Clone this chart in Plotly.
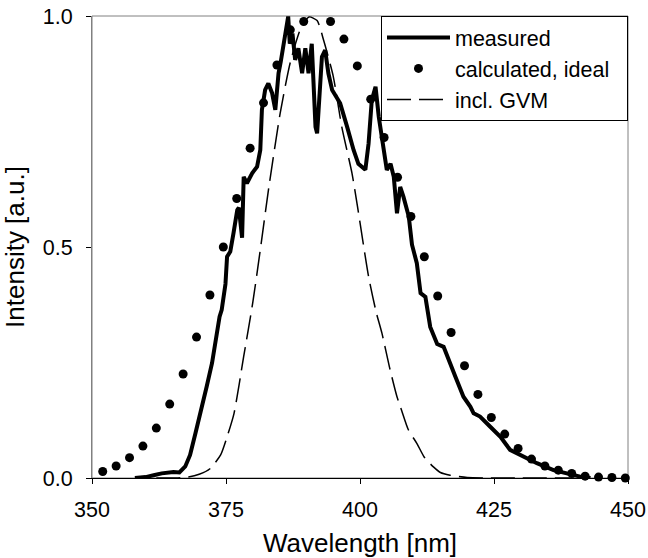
import plotly.graph_objects as go

# Measured spectrum (nm, normalised intensity)
measured_nm = [358.0, 360.0, 361.5, 363.0, 365.2, 366.3, 367.4, 368.3, 369.3, 370.5,
               371.4, 372.4, 372.9, 373.8, 374.2, 374.9, 375.2, 375.8, 376.4, 377.1,
               377.4, 378.0, 378.3, 378.9, 379.9, 380.8, 381.4, 381.7, 382.0, 382.3,
               382.9, 383.6, 384.2, 384.8, 385.2, 385.8, 386.6, 386.9, 387.4, 387.9,
               388.5, 389.2, 389.8, 390.4, 391.0, 391.7, 392.0, 392.9, 393.5, 394.1,
               394.8, 396.3, 396.9, 397.6, 398.8, 399.7, 401.0, 401.6, 402.2, 402.9,
               403.5, 404.4, 405.0, 405.7, 406.3, 406.9, 407.5, 408.1, 409.1, 409.7,
               410.3, 410.6, 411.3, 412.2, 413.1, 414.4, 415.6, 416.5, 417.8, 419.3,
               420.6, 421.2, 422.4, 424.3, 426.2, 428.0, 430.5, 433.0, 436.1, 438.6,
               441.1, 443.0]
measured_val = [0.0, 0.002, 0.006, 0.010, 0.013, 0.012, 0.025, 0.05, 0.097, 0.15,
                0.198, 0.249, 0.29, 0.349, 0.364, 0.42, 0.479, 0.49, 0.53, 0.58,
                0.585, 0.52, 0.652, 0.638, 0.66, 0.674, 0.71, 0.797, 0.818, 0.84,
                0.854, 0.833, 0.797, 0.876, 0.90, 0.94, 0.999, 0.94, 0.962, 0.905,
                0.93, 0.876, 0.93, 0.876, 0.94, 0.76, 0.746, 0.912, 0.926, 0.876,
                0.84, 0.811, 0.789, 0.76, 0.71, 0.68, 0.667, 0.724, 0.818, 0.847,
                0.782, 0.72, 0.667, 0.68, 0.652, 0.573, 0.63, 0.609, 0.566, 0.505,
                0.472, 0.465, 0.40, 0.392, 0.327, 0.29, 0.284, 0.255, 0.219, 0.176,
                0.154, 0.14, 0.133, 0.111, 0.089, 0.061, 0.046, 0.032, 0.017, 0.010,
                0.003, 0.0]

# Calculated, ideal (dots)
ideal_nm = [352, 354.5, 357, 359.5, 362, 364.5, 367, 369.5, 372, 374.5,
            377, 379.5, 382, 384.5, 387, 389.5, 392, 394.5, 397, 399.5,
            402, 404.5, 407, 409.5, 412, 414.5, 417, 419.5, 422, 424.5,
            427, 429.5, 432, 434.5, 437, 439.5, 442, 444.5, 447, 449.5]
ideal_val = [0.014, 0.026, 0.044, 0.069, 0.108, 0.16, 0.225, 0.305, 0.396, 0.50,
             0.605, 0.714, 0.812, 0.894, 0.97, 0.988, None, 0.988, 0.95, 0.892,
             0.82, 0.737, 0.651, 0.566, 0.479, 0.394, 0.315, 0.243, 0.181, 0.131,
             0.095, 0.064, 0.041, 0.026, 0.017, 0.010, 0.004, 0.002, 0.001, 0.0]

# Including GVM (dashed)
gvm_nm = [362, 366, 368, 370, 372, 374, 375.2, 376.5, 378.3, 380, 381.4, 383,
          385.1, 387, 389, 390.5, 392, 393.2, 395, 396.6, 398.5, 399.5, 401.6,
          403, 404.1, 405.5, 406.9, 407.8, 409, 410.6, 412, 413.7, 415, 416.8,
          420, 425, 430, 440]
gvm_val = [0.0, 0.0, 0.002, 0.008, 0.02, 0.05, 0.089, 0.14, 0.263, 0.38, 0.494, 0.63,
           0.789, 0.9, 0.975, 0.998, 0.99, 0.948, 0.87, 0.76, 0.66, 0.59, 0.436,
           0.36, 0.313, 0.24, 0.176, 0.145, 0.105, 0.075, 0.045, 0.024, 0.012, 0.006,
           0.001, 0.0, 0.0, 0.0]

series_names = ["measured", "calculated, ideal\u00a0\u00a0", "incl. GVM"]
x_ticks = [350, 375, 400, 425, 450]
y_ticks = [0.0, 0.5, 1.0]

FONT = "Liberation Sans, Arial, sans-serif"
FS = 21.5

fig = go.Figure()
fig.add_trace(go.Scatter(x=measured_nm, y=measured_val, mode="lines", name=series_names[0],
                         line=dict(color="black", width=4)))
fig.add_trace(go.Scatter(x=ideal_nm, y=ideal_val, mode="markers", name=series_names[1],
                         marker=dict(color="black", size=9), cliponaxis=False))
fig.add_trace(go.Scatter(x=gvm_nm, y=gvm_val, mode="lines", name=series_names[2],
                         line=dict(color="black", width=1.5, dash="24px,8px",
                                   shape="spline", smoothing=0.6)))

fig.update_layout(
    width=648, height=558,
    margin=dict(l=92, r=20, t=16, b=80, autoexpand=False),
    paper_bgcolor="white", plot_bgcolor="white",
    font=dict(family=FONT, size=FS, color="black"),
    showlegend=True,
    legend=dict(x=1.0, y=1.0, xanchor="right", yanchor="top",
                bordercolor="black", borderwidth=1, bgcolor="white",
                itemwidth=63, font=dict(family=FONT, size=FS)),
    xaxis=dict(range=[350, 450], tickvals=x_ticks, ticktext=[str(v) for v in x_ticks],
               showgrid=False, zeroline=False, showline=True, linecolor="black", linewidth=1,
               ticks="outside", ticklen=5, tickcolor="black", automargin=False,
               ticklabelstandoff=7,
               title=dict(text="Wavelength [nm]", standoff=14)),
    yaxis=dict(range=[0, 1], tickvals=y_ticks, ticktext=["%.1f" % v for v in y_ticks],
               showgrid=False, zeroline=False, showline=True, linecolor="#808080", linewidth=1,
               ticks="outside", ticklen=5, tickcolor="black", automargin=False,
               ticklabelstandoff=9,
               title=dict(text="Intensity [a.u.]", standoff=15)),
    shapes=[dict(type="rect", xref="paper", yref="paper", x0=0, x1=1, y0=0, y1=1,
                 line=dict(color="#808080", width=1), layer="below")],
)

# remove the browser's default page margin so the figure fills the window exactly
fig.write_html("out.html",
               config={"displayModeBar": False, "staticPlot": True},
               post_script="document.body.style.margin='0';document.body.style.overflow='hidden';")
